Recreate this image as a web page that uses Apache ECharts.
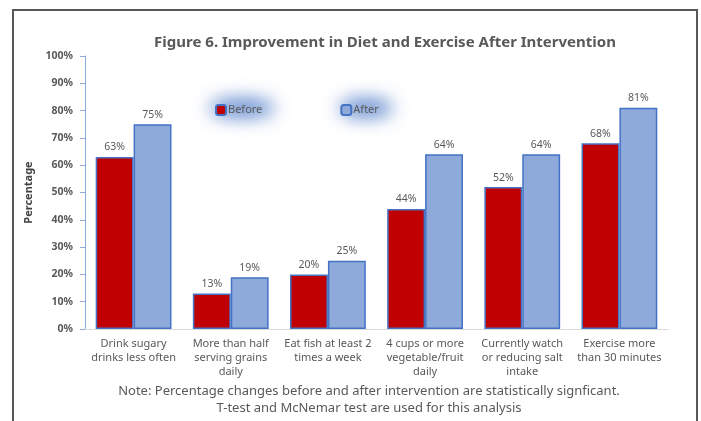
<!DOCTYPE html>
<html>
<head>
<meta charset="utf-8">
<script src="https://cdn.jsdelivr.net/npm/echarts@6/dist/echarts.min.js"></script>
<style>
  html, body { margin: 0; padding: 0; background: #fff; }
  #chart { width: 701px; height: 421px; }
</style>
</head>
<body>
<div id="chart"></div>
<script>
var categories = [
    'Drink sugary\ndrinks less often',
    'More than half\nserving grains\ndaily',
    'Eat fish at least 2\ntimes a week',
    '4 cups or more\nvegetable/fruit\ndaily',
    'Currently watch\nor reducing salt\nintake',
    'Exercise more\nthan 30 minutes'
];
var before = [63, 13, 20, 44, 52, 68];
var after = [75, 19, 25, 64, 64, 81];
var yTicks = [0, 10, 20, 30, 40, 50, 60, 70, 80, 90, 100];

var myChart = echarts.init(document.getElementById('chart'));
var font = 'Noto Sans';
var grey = '#595959';

// soft blue glow behind a legend entry (shape drawn off-screen, only its shadow shows)
function glow(cx, cy, rx, ry) {
    return {
        type: 'ellipse',
        shape: { cx: cx - 2000, cy: cy, rx: rx, ry: ry },
        style: {
            fill: '#4472c4', shadowBlur: 18, shadowOffsetX: 2000,
            shadowColor: 'rgba(68,114,196,0.8)'
        },
        z: 0, silent: true
    };
}

var option = {
    animation: false,
    textStyle: { fontFamily: font },
    title: {
        text: 'Figure 6. Improvement in Diet and Exercise After Intervention',
        left: 380,
        textAlign: 'center',
        top: 30,
        textStyle: { fontSize: 15, fontWeight: 'bold', color: grey, fontFamily: font }
    },
    legend: {
        data: ['Before', 'After'],
        left: 210,
        top: 99,
        itemGap: 78,
        itemWidth: 10,
        itemHeight: 10,
        z: 5,
        textStyle: { fontSize: 11, color: grey, padding: [0, 0, 0, -3] }
    },
    grid: { left: 85, right: 33, top: 56, bottom: 92 },
    xAxis: {
        type: 'category',
        data: categories,
        axisLine: { lineStyle: { color: '#d9d9d9' } },
        axisTick: { show: false },
        axisLabel: { color: grey, fontSize: 11, lineHeight: 14, margin: 8, interval: 0 }
    },
    yAxis: {
        type: 'value',
        min: 0,
        max: 100,
        interval: 10,
        name: 'Percentage',
        nameLocation: 'middle',
        nameGap: 48,
        nameRotate: 90,
        nameTextStyle: { color: '#404040', fontSize: 11, fontWeight: 'bold' },
        axisLine: { show: true, lineStyle: { color: '#8eaadb' } },
        axisTick: { show: true, length: 5, lineStyle: { color: '#8eaadb' } },
        splitLine: { show: false },
        axisLabel: {
            color: grey, fontSize: 10.5, fontWeight: 'bold', margin: 12,
            formatter: function (v) { return yTicks.indexOf(v) >= 0 ? v + '%' : ''; }
        }
    },
    series: [
        {
            name: 'Before',
            type: 'bar',
            data: before,
            barGap: '0%',
            barCategoryGap: '22%',
            itemStyle: { color: '#c00000', borderColor: '#4472c4', borderWidth: 1.5 },
            label: { show: true, position: 'top', formatter: '{c}%', color: grey, fontSize: 10.5, distance: 4 }
        },
        {
            name: 'After',
            type: 'bar',
            data: after,
            itemStyle: { color: '#8eaadb', borderColor: '#4472c4', borderWidth: 1.5 },
            label: { show: true, position: 'top', formatter: '{c}%', color: grey, fontSize: 10.5, distance: 4 }
        }
    ],
    graphic: [
        {
            type: 'rect',
            shape: { x: 13, y: 10, width: 684, height: 430 },
            style: { fill: 'none', stroke: '#595959', lineWidth: 2 },
            silent: true
        },
        glow(242, 108, 33, 10),
        glow(366, 108, 27, 10),
        {
            type: 'text',
            x: 369,
            y: 383,
            style: {
                text: 'Note: Percentage changes before and after intervention are statistically signficant.\nT-test and McNemar test are used for this analysis',
                fill: grey, font: '13px "Noto Sans"', align: 'center', lineHeight: 17
            }
        }
    ]
};

myChart.setOption(option);
</script>
</body>
</html>
